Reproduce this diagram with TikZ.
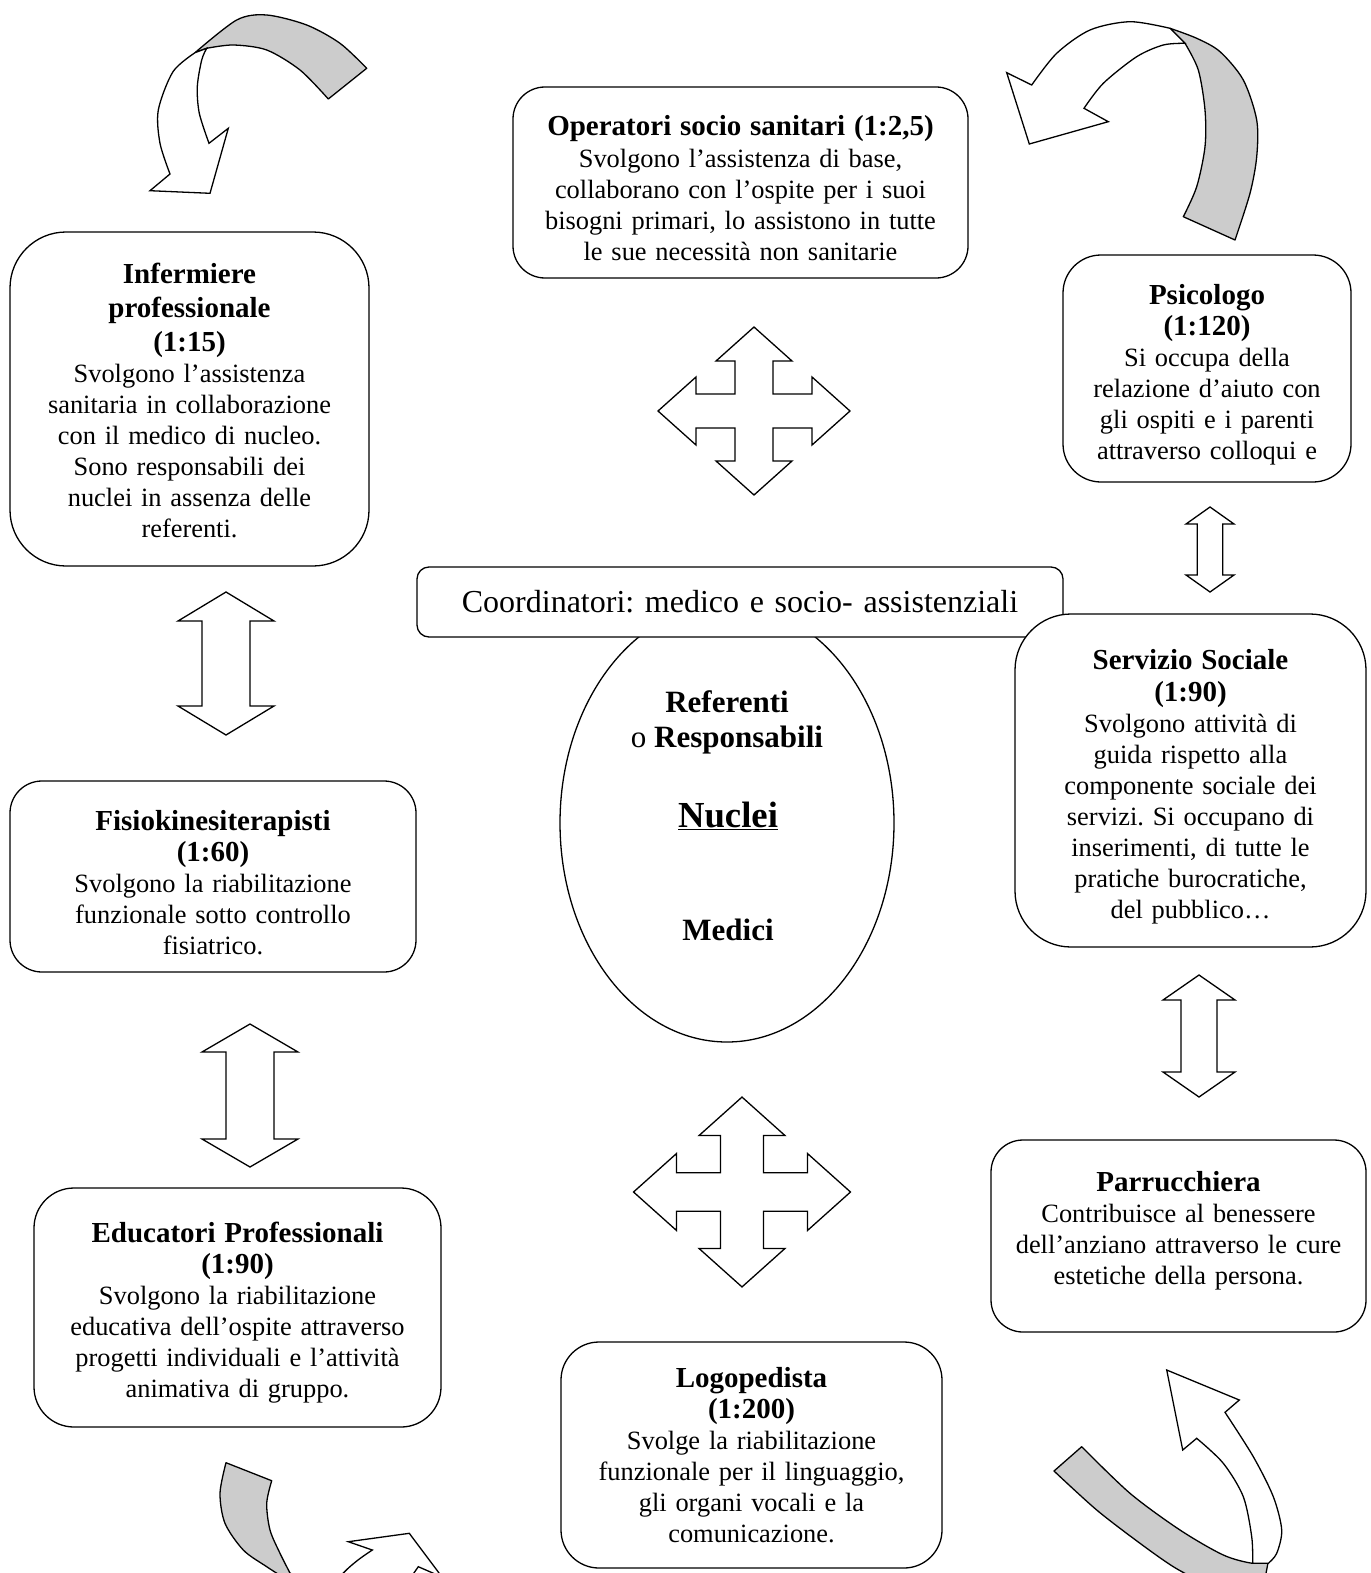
\documentclass[tikz,border=0pt]{standalone}
\usepackage{fontspec}
\setmainfont{Liberation Serif}
\usepackage{tikz}
\usetikzlibrary{shapes.geometric}
\frenchspacing

\newcommand{\hd}[1]{{\fontsize{29}{33}\selectfont\bfseries #1}}
% vertical double block arrow: x, top, bottom, shaft half, head half, head length
\newcommand{\updown}[6]{%
  \draw[blockarrow] (#1,#2) -- ({#1+#5},{#2+#6}) -- ({#1+#4},{#2+#6})
    -- ({#1+#4},{#3-#6}) -- ({#1+#5},{#3-#6}) -- (#1,#3)
    -- ({#1-#5},{#3-#6}) -- ({#1-#4},{#3-#6}) -- ({#1-#4},{#2+#6})
    -- ({#1-#5},{#2+#6}) -- cycle;}
% four-way block arrow: x, y, size
\newcommand{\crossarrow}[3]{%
  \begin{scope}[shift={(#1,#2)}, scale=#3]
    \draw[blockarrow] (0,-84) -- (38,-50) -- (19,-50) -- (19,-17) -- (58,-17)
      -- (58,-34) -- (96,0) -- (58,34) -- (58,17) -- (19,17) -- (19,50)
      -- (38,50) -- (0,84) -- (-38,50) -- (-19,50) -- (-19,17) -- (-58,17)
      -- (-58,34) -- (-96,0) -- (-58,-34) -- (-58,-17) -- (-19,-17)
      -- (-19,-50) -- (-38,-50) -- cycle;
  \end{scope}}

\begin{document}
\begin{tikzpicture}[
    x=1pt, y=-1pt,
    line width=1.3pt,
    card/.style={draw, rectangle, rounded corners=#1, fill=white,
        align=center, inner sep=0pt, font=\fontsize{26.4}{31}\selectfont},
    drop/.style={execute at begin node={\rule{0pt}{#1}}},
    rise/.style={execute at end node={\rule[-#1]{0pt}{0pt}}},
    blockarrow/.style={draw, fill=white, line join=miter},
    ribbon/.style={draw, fill=black!20, line join=round},
    flap/.style={draw, fill=white, line join=miter},
    bigtext/.style={font=\fontsize{31}{35}\selectfont, inner sep=0pt, align=center}
]
\useasboundingbox (0,0) rectangle (1370,1573);
\clip (0,0) rectangle (1370,1573);

% Curved arrows
\filldraw[ribbon] plot[smooth] coordinates {(195,52.7) (236.7,20) (266.7,15) (306.7,25) (340,43.3) (366.7,68.3)}
    -- plot[smooth] coordinates {(328.3,99) (300,70) (266.7,50) (233.3,45) (206.7,48.3)} -- cycle;
\filldraw[flap] plot[smooth] coordinates {(206.7,48.3) (201.7,60) (197.3,86.7) (199.3,113.3) (209,143.3)}
    -- (228.3,128.3) -- (210,193.3) -- (150,190.7)
    -- plot[smooth] coordinates {(170,174) (160,143.3) (158.3,110) (173,71.7) (195,52.7)} -- cycle;

\filldraw[ribbon] plot[smooth] coordinates {(1170,28.3) (1196.7,38.3) (1220,51.7) (1243.3,80) (1256.7,120) (1256.7,156.7) (1250,193.3) (1235,240)}
    -- plot[smooth] coordinates {(1183.3,216.7) (1196.7,186.7) (1205,146.7) (1205,110) (1198.3,70) (1185,43.3)} -- cycle;
\filldraw[flap] plot[smooth] coordinates {(1185,43.3) (1163.3,45) (1136.7,56.7) (1103.3,83.3) (1084,108.3)}
    -- (1108.3,121.7) -- (1029.3,144) -- (1006.7,72.7)
    -- plot[smooth] coordinates {(1031.7,85) (1056.7,53.3) (1090,30) (1130,21.7) (1170,28.3)} -- cycle;

\filldraw[ribbon] plot[smooth] coordinates {(226,1462.7) (220,1493.3) (225,1523.3) (243.3,1550) (266.7,1566.7) (300,1588)}
    -- (340,1600) -- plot[smooth] coordinates {(290,1573) (280,1553.3) (270,1530) (266.7,1503.3) (271.7,1480.7)} -- cycle;
\filldraw[flap] plot[smooth] coordinates {(320,1600) (343.3,1573) (358,1560) (372.3,1550)}
    -- (348.3,1541.7) -- (409.3,1533.3) -- (442,1577) -- (418.3,1566.7) -- (395,1600) -- cycle;

\filldraw[ribbon] plot[smooth] coordinates {(1081.7,1446.7) (1130,1493.3) (1180,1530) (1223.3,1555) (1252.7,1563.3) (1268.3,1561)}
    -- (1262,1595) -- plot[smooth] coordinates {(1205,1584) (1173.3,1566.7) (1140,1543.3) (1096.7,1510) (1054,1471)} -- cycle;
\filldraw[flap] plot[smooth] coordinates {(1252.7,1563.3) (1251.7,1536.7) (1243.3,1496.7) (1223.3,1463.3) (1196.7,1438.3)}
    -- (1182.7,1450) -- (1166.7,1370) -- (1239.3,1400)
    -- plot[smooth] coordinates {(1225,1412.3) (1253.3,1456.7) (1273.3,1496.7) (1281.7,1530) (1276.7,1553.3) (1268.3,1563.3)} -- cycle;

% Block arrows
\crossarrow{754}{411}{1}
\crossarrow{742}{1192}{1.13}
\updown{226}{592}{735}{24}{48}{29}
\updown{250}{1024}{1167}{24}{48}{28}
\updown{1210}{507}{592}{12.8}{24}{17}
\updown{1199}{975}{1097}{18}{36}{25}

% Centre
\node[draw, ellipse, minimum width=334pt, minimum height=438pt, inner sep=0pt] (nuclei) at (727,823) {};
\node[bigtext] (referenti) at (727,722) {\textbf{Referenti}\\o \textbf{Responsabili}};
\node[bigtext, font=\fontsize{36.7}{40}\selectfont\bfseries] (nucleitxt) at (728,816) {\underline{Nuclei}};
\node[bigtext, font=\fontsize{31}{35}\selectfont\bfseries] (medici) at (728,930) {Medici};
\node[card=12pt, minimum width=646pt, minimum height=70pt, text width=646pt,
    font=\fontsize{32}{36}\selectfont] (coord) at (740,602) {Coordinatori: medico e socio- assistenziali};

% Boxes
\node[card=32pt, drop=32pt, minimum width=455pt, minimum height=191pt, text width=455pt] (oss) at (740.5,182.5) {%
    \hd{Operatori socio sanitari (1:2,5)}\\[1pt]
    Svolgono l’assistenza di base,\\
    collaborano con l’ospite per i suoi\\
    bisogni primari, lo assistono in tutte\\
    le sue necessità non sanitarie};
\node[card=56pt, drop=24pt, minimum width=359pt, minimum height=334pt, text width=359pt] (infermiere) at (189.5,399) {%
    \hd{Infermiere}\\[3pt]
    \hd{professionale}\\[3pt]
    \hd{(1:15)}\\
    Svolgono l’assistenza\\
    sanitaria in collaborazione\\
    con il medico di nucleo.\\
    Sono responsabili dei\\
    nuclei in assenza delle\\
    referenti.};
\node[card=38pt, drop=33pt, minimum width=288pt, minimum height=227pt, text width=288pt] (psicologo) at (1207,368.5) {%
    \hd{Psicologo}\\
    \hd{(1:120)}\\
    Si occupa della\\
    relazione d’aiuto con\\
    gli ospiti e i parenti\\
    attraverso colloqui e};
\node[card=56pt, drop=32pt, minimum width=351pt, minimum height=333pt, text width=351pt] (sociale) at (1190.5,780.5) {%
    \hd{Servizio Sociale}\\[1pt]
    \hd{(1:90)}\\
    Svolgono attività di\\
    guida rispetto alla\\
    componente sociale dei\\
    servizi. Si occupano di\\
    inserimenti, di tutte le\\
    pratiche burocratiche,\\
    del pubblico…};
\node[card=32pt, drop=33pt, minimum width=406pt, minimum height=191pt, text width=406pt] (fisio) at (213,876.5) {%
    \hd{Fisiokinesiterapisti}\\
    \hd{(1:60)}\\
    Svolgono la riabilitazione\\
    funzionale sotto controllo\\
    fisiatrico.};
\node[card=40pt, drop=31pt, minimum width=407pt, minimum height=239pt, text width=407pt] (educatori) at (237.5,1307.5) {%
    \hd{Educatori Professionali}\\
    \hd{(1:90)}\\
    Svolgono la riabilitazione\\
    educativa dell’ospite attraverso\\
    progetti individuali e l’attività\\
    animativa di gruppo.};
\node[card=32pt, rise=16pt, minimum width=375pt, minimum height=192pt, text width=375pt] (parrucchiera) at (1178.5,1236) {%
    \hd{Parrucchiera}\\
    Contribuisce al benessere\\
    dell’anziano attraverso le cure\\
    estetiche della persona.};
\node[card=38pt, minimum width=381pt, minimum height=226pt, text width=381pt] (logopedista) at (751.5,1455) {%
    \hd{Logopedista}\\
    \hd{(1:200)}\\
    Svolge la riabilitazione\\
    funzionale per il linguaggio,\\
    gli organi vocali e la\\
    comunicazione.};

\end{tikzpicture}
\end{document}
